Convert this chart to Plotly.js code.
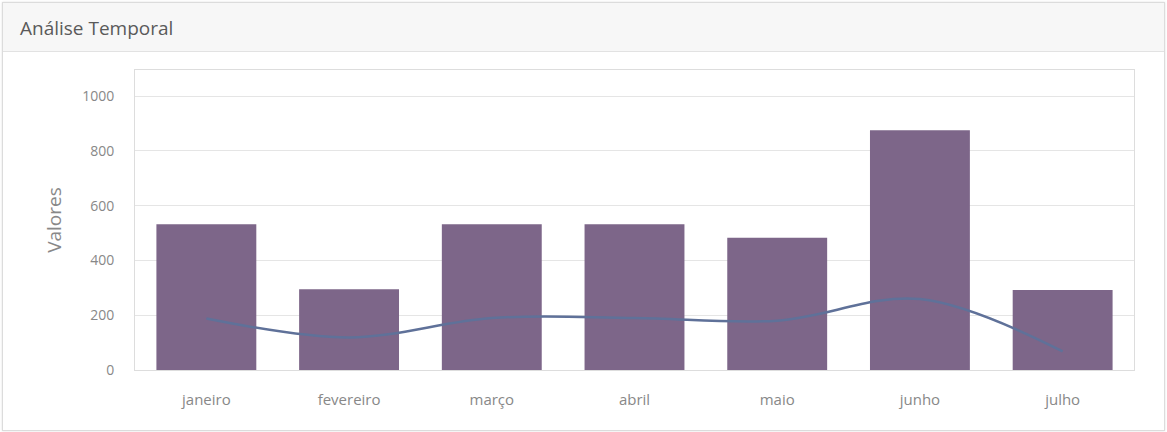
<!DOCTYPE html>
<html>
<head>
<meta charset="utf-8">
<script src="https://cdn.plot.ly/plotly-3.0.1.min.js"></script>
<style>
  html, body { margin: 0; padding: 0; background: #ffffff; }
  #panel { position: absolute; left: 2px; top: 2px; width: 1161px; height: 427px;
           border: 1px solid #dcdcdc; box-shadow: 0 0 2px rgba(0,0,0,0.12); background: #fff; }
  #header { background: #f7f7f7; border-bottom: 1px solid #e2e2e2;
            font-family: 'Open Sans', sans-serif; font-size: 19px; color: #5a5a5a;
            line-height: 50px; padding-left: 17px; box-sizing: border-box; height: 49px; }
  #chart { position: absolute; left: 0; top: 49px; width: 1161px; height: 378px; }
</style>
</head>
<body>
<div id="panel">
  <div id="header">Análise Temporal</div>
  <div id="chart"></div>
</div>
<script>
const categories = ['janeiro', 'fevereiro', 'março', 'abril', 'maio', 'junho', 'julho'];
const barValues = [532, 295, 532, 532, 483, 875, 292];
const lineValues = [188, 119, 190, 190, 180, 259, 68];
const yTicks = [0, 200, 400, 600, 800, 1000];

const traces = [
  {
    type: 'bar', x: categories, y: barValues,
    marker: { color: '#7d6689' }, width: 0.7, hoverinfo: 'x+y'
  },
  {
    type: 'scatter', mode: 'lines', x: categories, y: lineValues,
    line: { color: '#5f7199', width: 2.5, shape: 'spline', smoothing: 1 }
  }
];

const layout = {
  width: 1161, height: 378,
  margin: { l: 132, r: 30, t: 18, b: 60 },
  paper_bgcolor: '#ffffff', plot_bgcolor: '#ffffff',
  showlegend: false,
  font: { family: 'Open Sans, sans-serif', color: '#888' },
  xaxis: {
    type: 'category', showgrid: false, zeroline: false,
    showline: true, linecolor: '#dddddd', linewidth: 1, mirror: true,
    ticks: 'outside', ticklen: 16, tickcolor: 'rgba(0,0,0,0)',
    tickfont: { size: 15, color: '#888' }
  },
  yaxis: {
    range: [0, 1095], tickvals: yTicks, ticktext: yTicks.map(String),
    showgrid: true, gridcolor: '#e5e5e5', zeroline: false,
    showline: true, linecolor: '#dddddd', linewidth: 1, mirror: true,
    ticks: 'outside', ticklen: 17, tickcolor: 'rgba(0,0,0,0)',
    tickfont: { size: 14, color: '#888' },
    title: { text: 'Valores', font: { size: 19, color: '#888' }, standoff: 15 }
  },
  bargap: 0.3
};

Plotly.newPlot('chart', traces, layout, { displayModeBar: false, staticPlot: true });
</script>
</body>
</html>
